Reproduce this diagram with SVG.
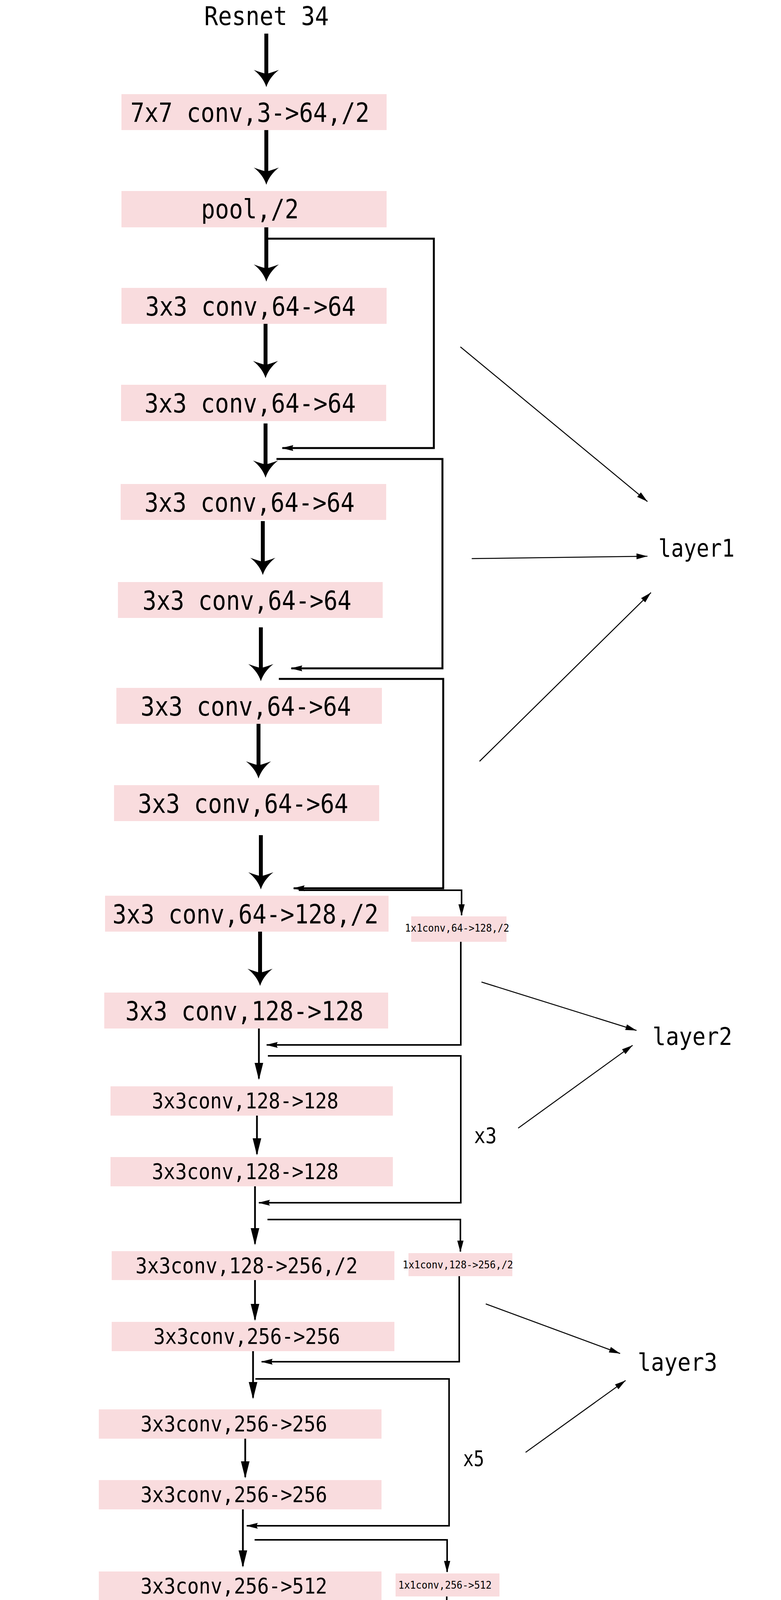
<svg xmlns="http://www.w3.org/2000/svg" width="2000" height="5068" viewBox="0 0 2000 5068">
<style>
.bx{fill:#F9DCDE}
.t{font-family:"DejaVu Sans Mono","Liberation Mono",monospace;fill:#000}
.tl{font-size:68px}
.tm{font-size:55px}
.ts{font-size:27px}
.thick{stroke:#000;stroke-width:10;fill:none}
.thin{stroke:#000;stroke-width:4.5;fill:none}
.sk{stroke:#000;stroke-width:4;fill:none}
.sk1{stroke:#000;stroke-width:5;fill:none}
.la{stroke:#000;stroke-width:2.5;fill:none}
</style>
<defs>
<marker id="big" markerUnits="userSpaceOnUse" viewBox="-46 -34 48 68" refX="-30" refY="0" markerWidth="48" markerHeight="68" orient="auto"><path d="M0,0 Q-25,-8 -44,-32 Q-36,-10 -34,0 Q-36,10 -44,32 Q-25,8 0,0 Z" fill="#000"/></marker>
<marker id="ah" markerUnits="userSpaceOnUse" viewBox="-46 -12 48 24" refX="-4" refY="0" markerWidth="48" markerHeight="24" orient="auto"><path d="M0,0 L-44,-11 L-44,11 Z" fill="#000"/></marker>
<marker id="ad" markerUnits="userSpaceOnUse" viewBox="-32 -10 34 20" refX="-2" refY="0" markerWidth="34" markerHeight="20" orient="auto"><path d="M0,0 L-30,-8 L-30,8 Z" fill="#000"/></marker>
<marker id="al" markerUnits="userSpaceOnUse" viewBox="-34 -10 36 20" refX="-2" refY="0" markerWidth="36" markerHeight="20" orient="auto"><path d="M0,0 L-30,-7.5 L-27,0 L-30,7.5 Z" fill="#000"/></marker>
<marker id="lm" markerUnits="userSpaceOnUse" viewBox="-32 -10 34 20" refX="0" refY="0" markerWidth="34" markerHeight="20" orient="auto"><path d="M0,0 L-28,-7.5 L-28,7.5 Z" fill="#000"/></marker>
</defs>

<g id="title"><text class="t" x="523" y="64" font-size="66" textLength="319" lengthAdjust="spacingAndGlyphs">Resnet 34</text></g>

<g id="n1"><rect class="bx" x="311" y="241" width="679" height="92"/><text class="t tl" x="334" y="312" textLength="612" lengthAdjust="spacingAndGlyphs">7x7 conv,3-&gt;64,/2</text></g>
<g id="n2"><rect class="bx" x="311" y="489" width="679" height="93"/><text class="t tl" x="515" y="559" textLength="250" lengthAdjust="spacingAndGlyphs">pool,/2</text></g>
<g id="n3"><rect class="bx" x="311" y="737" width="679" height="92"/><text class="t tl" x="372" y="808" textLength="539" lengthAdjust="spacingAndGlyphs">3x3 conv,64-&gt;64</text></g>
<g id="n4"><rect class="bx" x="310" y="985" width="679" height="93"/><text class="t tl" x="370" y="1056" textLength="541" lengthAdjust="spacingAndGlyphs">3x3 conv,64-&gt;64</text></g>
<g id="n5"><rect class="bx" x="309" y="1239" width="680" height="92"/><text class="t tl" x="370" y="1310" textLength="538" lengthAdjust="spacingAndGlyphs">3x3 conv,64-&gt;64</text></g>
<g id="n6"><rect class="bx" x="302" y="1490" width="678" height="92"/><text class="t tl" x="365" y="1561" textLength="535" lengthAdjust="spacingAndGlyphs">3x3 conv,64-&gt;64</text></g>
<g id="n7"><rect class="bx" x="298" y="1761" width="680" height="92"/><text class="t tl" x="360" y="1832" textLength="539" lengthAdjust="spacingAndGlyphs">3x3 conv,64-&gt;64</text></g>
<g id="n8"><rect class="bx" x="292" y="2010" width="679" height="92"/><text class="t tl" x="353" y="2081" textLength="539" lengthAdjust="spacingAndGlyphs">3x3 conv,64-&gt;64</text></g>
<g id="n9"><rect class="bx" x="269" y="2293" width="726" height="92"/><text class="t tl" x="288" y="2364" textLength="681" lengthAdjust="spacingAndGlyphs">3x3 conv,64-&gt;128,/2</text></g>
<g id="n10"><rect class="bx" x="267" y="2541" width="727" height="92"/><text class="t tl" x="321" y="2612" textLength="610" lengthAdjust="spacingAndGlyphs">3x3 conv,128-&gt;128</text></g>
<g id="n11"><rect class="bx" x="283" y="2781" width="723" height="75"/><text class="t tm" x="389" y="2837" textLength="478" lengthAdjust="spacingAndGlyphs">3x3conv,128-&gt;128</text></g>
<g id="n12"><rect class="bx" x="283" y="2962" width="723" height="75"/><text class="t tm" x="389" y="3018" textLength="478" lengthAdjust="spacingAndGlyphs">3x3conv,128-&gt;128</text></g>
<g id="n13"><rect class="bx" x="286" y="3203" width="724" height="74"/><text class="t tm" x="347" y="3259" textLength="569" lengthAdjust="spacingAndGlyphs">3x3conv,128-&gt;256,/2</text></g>
<g id="n14"><rect class="bx" x="286" y="3384" width="724" height="75"/><text class="t tm" x="393" y="3440" textLength="478" lengthAdjust="spacingAndGlyphs">3x3conv,256-&gt;256</text></g>
<g id="n15"><rect class="bx" x="253" y="3608" width="724" height="75"/><text class="t tm" x="360" y="3664" textLength="478" lengthAdjust="spacingAndGlyphs">3x3conv,256-&gt;256</text></g>
<g id="n16"><rect class="bx" x="253" y="3789" width="724" height="75"/><text class="t tm" x="360" y="3845" textLength="478" lengthAdjust="spacingAndGlyphs">3x3conv,256-&gt;256</text></g>
<g id="n17"><rect class="bx" x="253" y="4023" width="724" height="74"/><text class="t tm" x="360" y="4079" textLength="478" lengthAdjust="spacingAndGlyphs">3x3conv,256-&gt;512</text></g>
<g id="n18"><rect class="bx" x="253" y="4204" width="724" height="75"/><text class="t tm" x="360" y="4260" textLength="478" lengthAdjust="spacingAndGlyphs">3x3conv,512-&gt;512</text></g>
<g id="n19"><rect class="bx" x="253" y="4418" width="724" height="75"/><text class="t tm" x="360" y="4474" textLength="478" lengthAdjust="spacingAndGlyphs">3x3conv,512-&gt;512</text></g>
<g id="n20"><rect class="bx" x="253" y="4599" width="724" height="74"/><text class="t tm" x="360" y="4655" textLength="478" lengthAdjust="spacingAndGlyphs">3x3conv,512-&gt;512</text></g>
<g id="n21"><rect class="bx" x="253" y="4833" width="724" height="66"/><text class="t tm" x="501" y="4880" textLength="204" lengthAdjust="spacingAndGlyphs">avgpool</text></g>
<g id="n22"><rect class="bx" x="246" y="5007" width="721" height="53"/><text class="t tm" x="309" y="5048" textLength="566" lengthAdjust="spacingAndGlyphs">fc,512-&gt;num_classes</text></g>

<g id="s1"><rect class="bx" x="1053" y="2346" width="244" height="65"/><text class="t ts" x="1037" y="2385" textLength="267" lengthAdjust="spacingAndGlyphs">1x1conv,64-&gt;128,/2</text></g>
<g id="s2"><rect class="bx" x="1046" y="3208" width="266" height="59"/><text class="t ts" x="1031" y="3247" textLength="283" lengthAdjust="spacingAndGlyphs">1x1conv,128-&gt;256,/2</text></g>
<g id="s3"><rect class="bx" x="1013" y="4028" width="266" height="59"/><text class="t ts" x="1020" y="4067" textLength="239" lengthAdjust="spacingAndGlyphs">1x1conv,256-&gt;512</text></g>

<g id="labels">
<text class="t" x="1686" y="1425" font-size="62" textLength="195" lengthAdjust="spacingAndGlyphs">layer1</text>
<text class="t" x="1671" y="2675" font-size="62" textLength="204" lengthAdjust="spacingAndGlyphs">layer2</text>
<text class="t" x="1633" y="3509" font-size="62" textLength="204" lengthAdjust="spacingAndGlyphs">layer3</text>
<text class="t" x="1579" y="4359" font-size="62" textLength="204" lengthAdjust="spacingAndGlyphs">layer4</text>
<text class="t" x="1214" y="2926" font-size="55" textLength="58" lengthAdjust="spacingAndGlyphs">x3</text>
<text class="t" x="1186" y="3753" font-size="55" textLength="54" lengthAdjust="spacingAndGlyphs">x5</text>
<text class="t" x="1186" y="4563" font-size="55" textLength="54" lengthAdjust="spacingAndGlyphs">x2</text>
</g>

<g id="connectors">
<path class="thick" marker-end="url(#big)" d="M682,86 V193"/>
<path class="thick" marker-end="url(#big)" d="M682,333 V443"/>
<path class="thick" marker-end="url(#big)" d="M682,582 V691"/>
<path class="thick" marker-end="url(#big)" d="M680,829 V938"/>
<path class="thick" marker-end="url(#big)" d="M680,1084 V1193"/>
<path class="thick" marker-end="url(#big)" d="M673,1334 V1442"/>
<path class="thick" marker-end="url(#big)" d="M668,1606 V1714"/>
<path class="thick" marker-end="url(#big)" d="M662,1853 V1963"/>
<path class="thick" marker-end="url(#big)" d="M668,2138 V2247"/>
<path class="thick" marker-end="url(#big)" d="M666,2385 V2494"/>

<path class="thin" marker-end="url(#ah)" d="M663,2633 V2761"/>
<path class="thin" marker-end="url(#ah)" d="M658,2856 V2954"/>
<path class="thin" marker-end="url(#ah)" d="M653,3037 V3184"/>
<path class="thin" marker-end="url(#ah)" d="M653,3277 V3378"/>
<path class="thin" marker-end="url(#ah)" d="M648,3459 V3578"/>
<path class="thin" marker-end="url(#ah)" d="M628,3683 V3781"/>
<path class="thin" marker-end="url(#ah)" d="M622,3864 V4009"/>
<path class="thin" marker-end="url(#ah)" d="M619,4097 V4196"/>
<path class="thin" marker-end="url(#ah)" d="M615,4279 V4398"/>
<path class="thin" marker-end="url(#ah)" d="M628,4493 V4590"/>
<path class="thin" marker-end="url(#ah)" d="M622,4673 V4818"/>
<path class="thin" marker-end="url(#ah)" d="M615,4907 V4999"/>

<path class="sk1" marker-end="url(#al)" d="M682,611 H1111 V1147 H723"/>
<path class="sk1" marker-end="url(#al)" d="M708,1175 H1133 V1711 H746"/>
<path class="sk1" marker-end="url(#al)" d="M714,1738 H1135 V2274 H752"/>
<path class="sk" marker-end="url(#ad)" d="M765,2279 H1182 V2343"/>
<path class="sk" marker-end="url(#al)" d="M1180,2411 V2675 H683"/>
<path class="sk" marker-end="url(#al)" d="M686,2703 H1180 V3079 H663"/>
<path class="sk" marker-end="url(#ad)" d="M685,3122 H1179 V3204"/>
<path class="sk" marker-end="url(#al)" d="M1176,3267 V3486 H670"/>
<path class="sk" marker-end="url(#al)" d="M654,3530 H1150 V3906 H632"/>
<path class="sk" marker-end="url(#ad)" d="M652,3942 H1145 V4024"/>
<path class="sk" marker-end="url(#al)" d="M1144,4087 V4306 H637"/>
<path class="sk" marker-end="url(#al)" d="M656,4340 H1150 V4716 H635"/>

<path class="la" marker-end="url(#lm)" d="M1179,888 L1658,1284"/>
<path class="la" marker-end="url(#lm)" d="M1208,1430 L1658,1424"/>
<path class="la" marker-end="url(#lm)" d="M1228,1949 L1667,1517"/>
<path class="la" marker-end="url(#lm)" d="M1233,2514 L1630,2638"/>
<path class="la" marker-end="url(#lm)" d="M1327,2888 L1620,2676"/>
<path class="la" marker-end="url(#lm)" d="M1244,3338 L1588,3465"/>
<path class="la" marker-end="url(#lm)" d="M1346,3718 L1602,3534"/>
<path class="la" marker-end="url(#lm)" d="M1224,4171 L1547,4335"/>
<path class="la" marker-end="url(#lm)" d="M1301,4544 L1538,4362"/>
</g>
</svg>
